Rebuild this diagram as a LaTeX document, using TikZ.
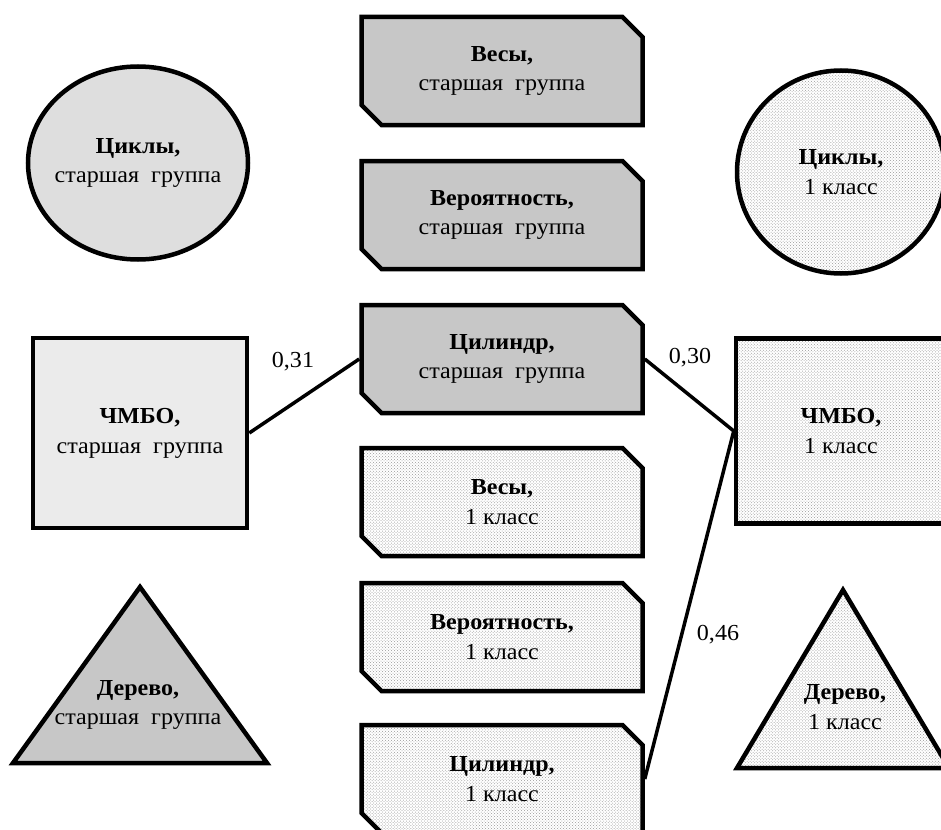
\documentclass[tikz,border=0pt]{standalone}
\usepackage{fontspec}
\setmainfont[FakeStretch=1.05]{Liberation Serif}
\usetikzlibrary{shapes.misc,shapes.geometric,patterns}

\begin{document}
\begin{tikzpicture}[x=1bp,y=-1bp,
      font=\fontsize{23}{30}\selectfont,
      seniorbox/.style={chamfered rectangle, chamfered rectangle corners={north east,south west},
        chamfered rectangle xsep=10bp, chamfered rectangle ysep=10bp,
        draw=black, line width=4.5bp, fill=black!22, minimum width=281bp,
        minimum height=108bp, inner sep=0pt, align=center},
      juniorbox/.style={seniorbox, fill=none, preaction={fill=white},
        pattern=crosshatch dots, pattern color=black!40},
      figline/.style={draw=black, line width=4.5bp, line join=miter},
      link/.style={line width=3.5bp}]

    \useasboundingbox (0,0) rectangle (941,830);

    % middle column
    \node[seniorbox] (w1) at (502,71) {\textbf{Весы,}\\старшая\ \ группа};
    \node[seniorbox] (p1) at (502,215) {\textbf{Вероятность,}\\старшая\ \ группа};
    \node[seniorbox] (c1) at (502,359) {\textbf{Цилиндр,}\\старшая\ \ группа};
    \node[juniorbox] (w2) at (502,502) {\textbf{Весы,}\\1 класс};
    \node[juniorbox] (p2) at (502,637) {\textbf{Вероятность,}\\1 класс};
    \node[juniorbox] (c2) at (502,779) {\textbf{Цилиндр,}\\1 класс};

    % left column
    \node[ellipse, figline, fill=black!13, minimum width=220bp, minimum height=193bp,
      label={[align=center]center:{\textbf{Циклы,}\\старшая\ \ группа}}] (cycS) at (138,163) {};
    \node[rectangle, figline, fill=black!8, minimum width=214bp, minimum height=190bp,
      align=center] (sqS) at (140,433) {\textbf{ЧМБО,}\\старшая\ \ группа};
    \coordinate (trS1) at (140,587);
    \coordinate (trS2) at (13,763);
    \coordinate (trS3) at (267,763);
    \draw[figline, fill=black!22] (trS1) -- (trS2) -- (trS3) -- cycle;
    \node[align=center] (treeS) at (138,705) {\textbf{Дерево,}\\старшая\ \ группа};

    % right column
    \node[ellipse, figline, preaction={fill=white}, pattern=crosshatch dots,
      pattern color=black!40, minimum width=208bp, minimum height=203bp,
      label={[align=center]center:{\textbf{Циклы,}\\1 класс}}] (cycJ) at (841,172) {};
    \node[rectangle, figline, preaction={fill=white}, pattern=crosshatch dots,
      pattern color=black!40, minimum width=210bp, minimum height=185bp,
      align=center] (sqJ) at (841,431) {\textbf{ЧМБО,}\\1 класс};
    \coordinate (trJ1) at (843,590);
    \coordinate (trJ2) at (737,768);
    \coordinate (trJ3) at (949,768);
    \draw[figline, preaction={fill=white}, pattern=crosshatch dots,
      pattern color=black!40] (trJ1) -- (trJ2) -- (trJ3) -- cycle;
    \node[align=center] (treeJ) at (845,707) {\textbf{Дерево,}\\1 класс};

    % links
    \draw[link] (sqS.east) -- (c1.west);
    \draw[link] (c1.east) -- (sqJ.west);
    \draw[link] (c2.east) -- (sqJ.west);

    \node (v31) at (293,362) {0,31};
    \node (v30) at (690,358) {0,30};
    \node (v46) at (718,635) {0,46};

  \end{tikzpicture}
\end{document}
